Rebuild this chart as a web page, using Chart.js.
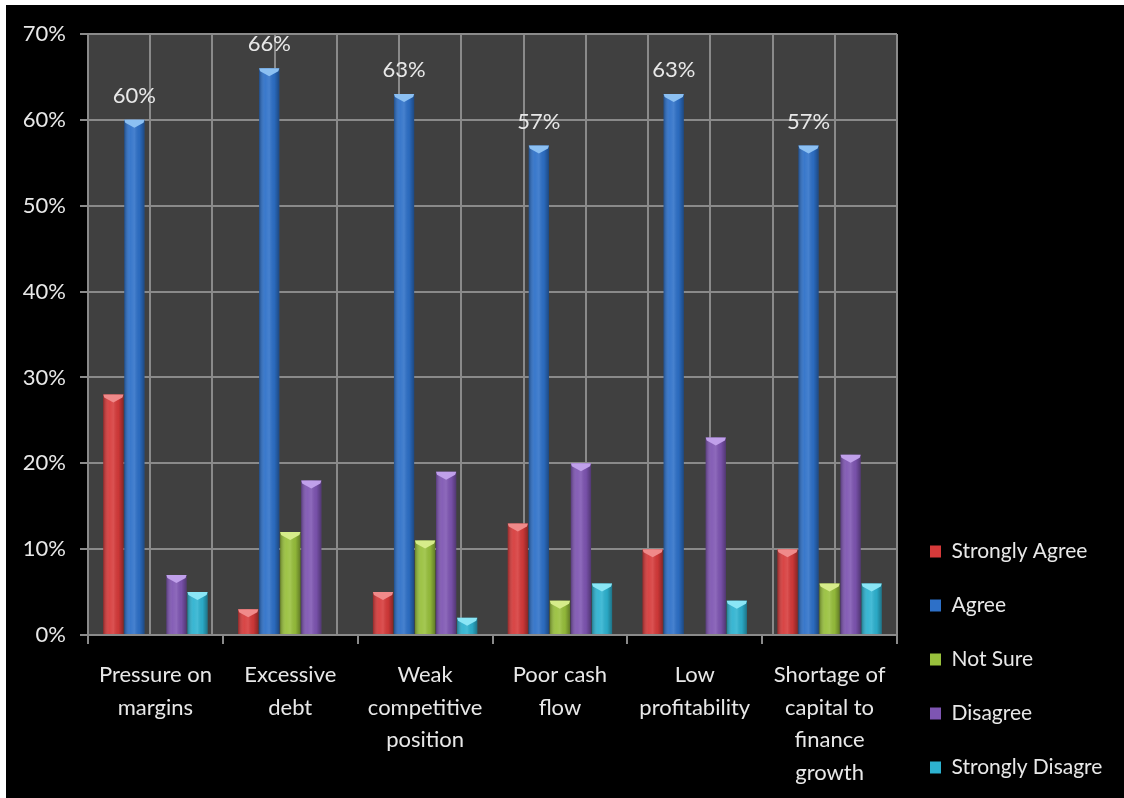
<!DOCTYPE html>
<html>
<head>
<meta charset="utf-8">
<title>Financial pressures survey</title>
<script src="https://cdn.jsdelivr.net/npm/chart.js@4.4.1/dist/chart.umd.min.js"></script>
<style>
  html, body { margin: 0; padding: 0; background: #ffffff; overflow: hidden; width: 1124px; height: 798px; }
  #wrap { position: absolute; left: 6px; top: 5px; width: 1118px; height: 793px; background: #000000; }
  canvas { display: block; }
</style>
</head>
<body>
<div id="wrap"><canvas id="chart" width="1118" height="793"></canvas></div>
<script>
// Categories (multi-line labels) and survey answers, in percent
const categories = [
  ['Pressure on', 'margins'],
  ['Excessive', 'debt'],
  ['Weak', 'competitive', 'position'],
  ['Poor cash', 'flow'],
  ['Low', 'profitability'],
  ['Shortage of', 'capital to', 'finance', 'growth']
];
const seriesNames = ['Strongly Agree', 'Agree', 'Not Sure', 'Disagree', 'Strongly Disagre'];
const stronglyAgree    = [28, 3, 5, 13, 10, 10];
const agree            = [60, 66, 63, 57, 63, 57];
const notSure          = [0, 12, 11, 4, 0, 6];
const disagree         = [7, 18, 19, 20, 23, 21];
const stronglyDisagree = [5, 0, 2, 6, 4, 6];
const yTickValues      = [0, 10, 20, 30, 40, 50, 60, 70];

const seriesColors = ['#d63a3a', '#2d70c8', '#98c03c', '#7e55b2', '#2db2d0'];
const capColors    = ['#f08a8a', '#8cc0f2', '#d6ec8a', '#c0a0ea', '#8ae6f6'];

const FONT = 'Lato';
const TEXT = '#e8e8e8';
const GRID = '#8a8a8a';

// Legend width depends on its longest label; reserve the rest of the right side as padding
const legendFontSize = 21, legendPad = 33, legendBox = 11;
const measure = document.createElement('canvas').getContext('2d');
measure.font = legendFontSize + 'px ' + FONT;
const longest = Math.max(...seriesNames.map(s => measure.measureText(s).width));
const legendWidth = legendPad + legendBox + legendFontSize / 2 + longest + 10;
const plotRight = 891;
const padRight = Math.max(0, 1118 - plotRight - legendWidth);

// Dark plot background behind gridlines
const plotBackground = {
  id: 'plotBackground',
  beforeDraw(chart) {
    const { ctx, chartArea: a } = chart;
    ctx.save();
    ctx.fillStyle = '#404040';
    ctx.fillRect(a.left, a.top, a.right - a.left, a.bottom - a.top);
    ctx.restore();
  }
};

// Cylinder-like shading and a light cap on each column
const columnShading = {
  id: 'columnShading',
  afterDatasetDraw(chart, args) {
    const ctx = chart.ctx;
    const di = args.index;
    ctx.save();
    args.meta.data.forEach(el => {
      const { x, y, base, width } = el.getProps(['x', 'y', 'base', 'width'], true);
      if (base - y < 0.5) return;
      const l = x - width / 2, r = x + width / 2;
      const g = ctx.createLinearGradient(l, 0, r, 0);
      g.addColorStop(0, 'rgba(0,0,0,0.30)');
      g.addColorStop(0.3, 'rgba(255,255,255,0.06)');
      g.addColorStop(0.5, 'rgba(255,255,255,0.12)');
      g.addColorStop(0.75, 'rgba(0,0,0,0.05)');
      g.addColorStop(1, 'rgba(0,0,0,0.35)');
      ctx.fillStyle = g;
      ctx.fillRect(l, y, width, base - y);
      const capH = Math.min(8, base - y);
      ctx.fillStyle = capColors[di];
      ctx.beginPath();
      ctx.moveTo(l, y);
      ctx.lineTo(r, y);
      ctx.lineTo(r - 1, y + Math.min(3, capH));
      ctx.lineTo(x, y + capH);
      ctx.lineTo(l + 1, y + Math.min(3, capH));
      ctx.closePath();
      ctx.fill();
    });
    ctx.restore();
  }
};

// Value labels above the "Agree" columns
const agreeLabels = {
  id: 'agreeLabels',
  afterDatasetsDraw(chart) {
    const ctx = chart.ctx;
    const meta = chart.getDatasetMeta(1);
    ctx.save();
    ctx.font = '22px ' + FONT;
    ctx.fillStyle = TEXT;
    ctx.textAlign = 'center';
    ctx.textBaseline = 'middle';
    meta.data.forEach((el, i) => {
      ctx.fillText(agree[i] + '%', el.x, el.y - 24);
    });
    ctx.restore();
  }
};

const seriesData = [stronglyAgree, agree, notSure, disagree, stronglyDisagree];

new Chart(document.getElementById('chart'), {
  type: 'bar',
  data: {
    labels: categories,
    datasets: seriesNames.map((name, i) => ({
      label: name,
      data: seriesData[i],
      backgroundColor: seriesColors[i],
      borderWidth: 0,
      categoryPercentage: 0.78,
      barPercentage: 0.96,
      xAxisID: 'x',
      yAxisID: 'y'
    }))
  },
  options: {
    responsive: false,
    animation: false,
    devicePixelRatio: 1,
    layout: { padding: { left: 0, top: 29, right: padRight, bottom: -13 } },
    plugins: {
      tooltip: { enabled: false },
      title: { display: false },
      legend: {
        position: 'right',
        align: 'end',
        labels: {
          color: TEXT,
          boxWidth: legendBox,
          boxHeight: 12,
          padding: legendPad,
          font: { family: FONT, size: legendFontSize }
        }
      }
    },
    scales: {
      x: {
        type: 'category',
        position: 'bottom',
        offset: true,
        afterFit: s => { s.height = 176; },
        ticks: {
          color: TEXT,
          font: { family: FONT, size: 22, lineHeight: 1.48 },
          padding: 15,
          maxRotation: 0,
          minRotation: 0,
          autoSkip: false
        },
        grid: { offset: true, drawOnChartArea: false, drawTicks: true, tickLength: 9, color: GRID, lineWidth: 2 },
        border: { display: true, color: GRID, width: 2 }
      },
      x2: {
        type: 'linear',
        position: 'bottom',
        min: 0,
        max: 12,
        afterFit: s => { s.height = 0; },
        ticks: { display: false, stepSize: 1 },
        grid: { drawTicks: false, color: GRID, lineWidth: 2 },
        border: { display: false }
      },
      y: {
        type: 'linear',
        min: 0,
        max: 70,
        afterBuildTicks: s => { s.ticks = yTickValues.map(v => ({ value: v })); },
        afterFit: s => { s.width = 82; },
        ticks: {
          color: TEXT,
          font: { family: FONT, size: 22 },
          padding: 14,
          callback: v => v + '%'
        },
        grid: { color: GRID, lineWidth: 2, tickLength: 8, drawTicks: true },
        border: { display: true, color: GRID, width: 2 }
      }
    }
  },
  plugins: [plotBackground, columnShading, agreeLabels]
});
</script>
</body>
</html>
